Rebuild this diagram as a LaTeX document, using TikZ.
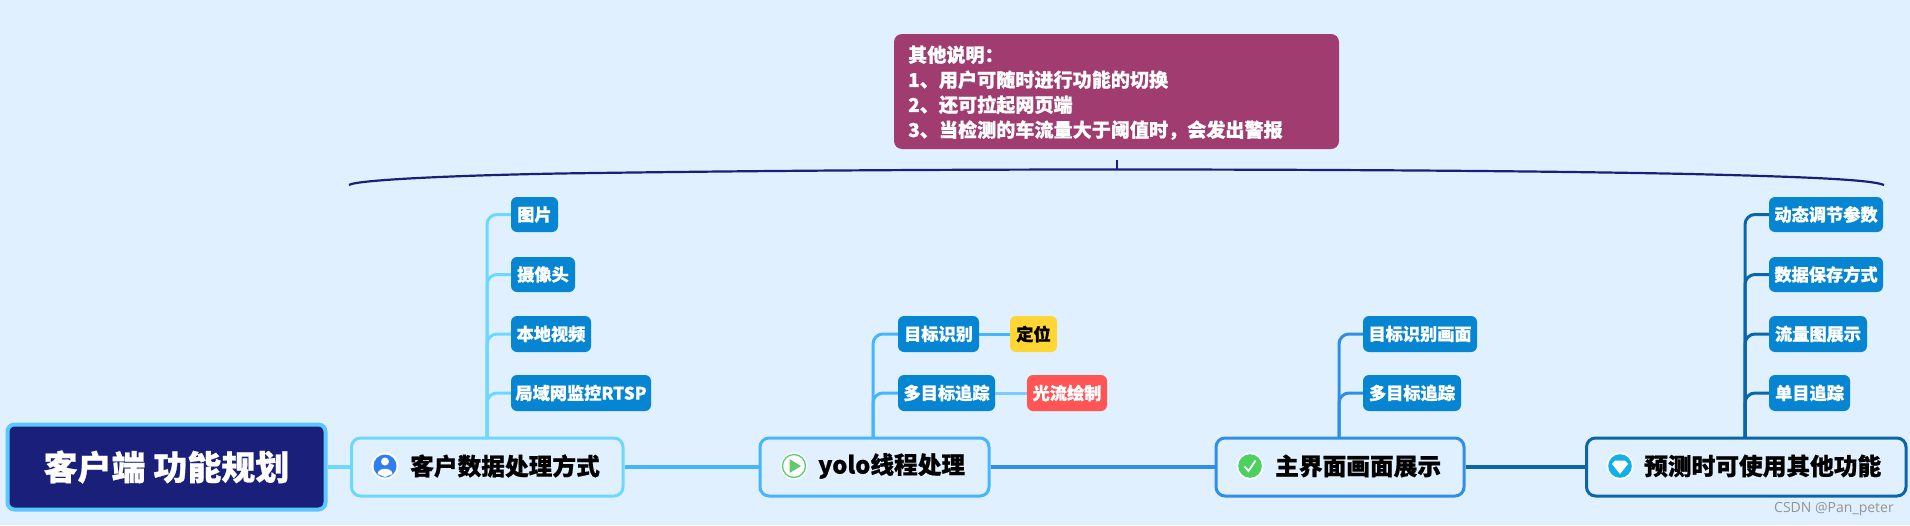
\documentclass[tikz,border=0pt]{standalone}
\usepackage{fontspec}
\setmainfont{Noto Sans CJK SC}[BoldFeatures={FakeBold=0.7}]
\newfontfamily\wmfont{Open Sans}
\definecolor{bgc}{HTML}{E1F0FE}
\definecolor{rootc}{HTML}{1A207A}
\definecolor{rootb}{HTML}{5AC8FF}
\definecolor{leafc}{HTML}{0585D2}
\definecolor{ca}{HTML}{6DD8FF}
\definecolor{cb}{HTML}{45B5FF}
\definecolor{cc}{HTML}{2F8FE8}
\definecolor{cd}{HTML}{0A66AA}
\definecolor{noteC}{HTML}{A03C70}
\definecolor{yellowC}{HTML}{FFD633}
\definecolor{redC}{HTML}{FF5555}
\definecolor{iconA}{HTML}{2F7DF0}
\definecolor{iconB}{HTML}{5FCB6E}
\definecolor{iconC}{HTML}{4CD060}
\definecolor{iconD}{HTML}{12B0E8}
\tikzset{
  box/.style={rounded corners=6pt,inner sep=0pt,font=\bfseries\fontsize{17.2}{17}\selectfont,text=white},
  leafbox/.style={box,fill=leafc},
  branchbox/.style={rounded corners=9pt,line width=3pt,fill=bgc,inner sep=0pt},
  branchtext/.style={anchor=west,inner sep=0pt,font=\bfseries\fontsize{23.7}{24}\selectfont,text=black},
  wire/.style={line width=3pt},
  trunk/.style={line width=3pt,rounded corners=10pt},
  bus/.style={line width=4.5pt},
  halo/.style={fill=white},
}
\newcommand{\boxat}[7][leafbox]{%
  \node[#1,minimum width={#4-#3},minimum height={#6-#5}] (#2) at ({(#3+#4)/2},{(#5+#6)/2}) {#7};}
\begin{document}
\begin{tikzpicture}[x=1pt,y=-1pt]
\useasboundingbox (0,0) rectangle (1910,525);
\fill[bgc] (0,0) rectangle (1910,525);
\coordinate (t1) at (487,438);
\coordinate (t2) at (873,438);
\coordinate (t3) at (1339,438);
\coordinate (t4) at (1745,438);
\coordinate (note tick) at (1117,160);
\coordinate (brace mid) at (1117,169.5);
\coordinate (brace l) at (349,185);
\coordinate (brace r) at (1884,185);
% nodes
\boxat[branchbox,draw=ca]{b1}{351.5}{623}{438}{496}{}
\boxat[branchbox,draw=cb]{b2}{760}{989}{438}{496}{}
\boxat[branchbox,draw=cc]{b3}{1216}{1464}{438}{496}{}
\boxat[branchbox,draw=cd]{b4}{1586.5}{1906}{438}{496}{}
\boxat{l11}{511}{558}{197}{232}{图片}
\boxat{l12}{511}{575}{257}{292}{摄像头}
\boxat{l13}{511}{591}{316}{352}{本地视频}
\boxat{l14}{511}{651}{375}{411}{局域网监控RTSP}
\boxat{l21}{898}{979}{316}{352}{目标识别}
\boxat{l22}{898}{995}{375}{411}{多目标追踪}
\boxat[leafbox,fill=yellowC,text=black]{l21a}{1010}{1057}{316}{352}{定位}
\boxat[leafbox,fill=redC]{l22a}{1027}{1107}{375}{411}{光流绘制}
\boxat{l31}{1363}{1477}{316}{352}{目标识别画面}
\boxat{l32}{1363}{1461}{375}{411}{多目标追踪}
\boxat{l41}{1769}{1883}{197}{232}{动态调节参数}
\boxat{l42}{1769}{1883}{257}{292}{数据保存方式}
\boxat{l43}{1769}{1867}{316}{352}{流量图展示}
\boxat{l44}{1769}{1850}{375}{411}{单目追踪}
% root
\node[rounded corners=7pt,line width=4pt,draw=rootb,fill=rootc,minimum width=318pt,minimum height=85pt,inner sep=0pt,text=white,font=\bfseries\fontsize{34}{34}\selectfont] (root) at (166.5,467) {客户端 功能规划};
% branch connectors
\draw[bus,ca] (root.east) -- (b1.west);
\draw[bus,cb] (b1.east) -- (b2.west);
\draw[bus,cc] (b2.east) -- (b3.west);
\draw[bus,cd] (b3.east) -- (b4.west);
\foreach \l in {l11,l12,l13,l14} \draw[trunk,ca] (t1) |- (\l.west);
\foreach \l in {l21,l22} \draw[trunk,cb] (t2) |- (\l.west);
\foreach \l in {l31,l32} \draw[trunk,cc] (t3) |- (\l.west);
\foreach \l in {l41,l42,l43,l44} \draw[trunk,cd] (t4) |- (\l.west);
\draw[wire,cb] (l21.east) -- (l21a.west);
\draw[wire,cb!70!white] (l22.east) -- (l22a.west);
% branch labels
\node[branchtext] (b1t) at (410,466) {客户数据处理方式};
\node[branchtext] (b2t) at (818,466) {yolo线程处理};
\node[branchtext] (b3t) at (1275,466) {主界面画面展示};
\node[branchtext] (b4t) at (1644,466) {预测时可使用其他功能};
% icons
\fill[halo] (385,466) circle (13.5);
\fill[iconA] (385,466) circle (11.5);
\fill[white] (385,461.5) circle (4);
\fill[white] (377.5,474) .. controls (378,467) and (392,467) .. (392.5,474) -- (385,477) -- cycle;
\fill[halo] (794,466) circle (13.5);
\draw[line width=1.3pt,iconB] (794,466) circle (11.5);
\fill[iconB] (789.5,459) -- (801,466) -- (789.5,473) -- cycle;
\fill[halo] (1250,466) circle (13.5);
\fill[iconC] (1250,466) circle (11.8);
\draw[white,line width=1.8pt] (1244.5,466.5) -- (1248.5,471) -- (1255.5,460.5);
\fill[halo] (1620,466) circle (13.5);
\fill[iconD] (1620,466) circle (11.8);
\fill[white] (1612,464) -- (1615,460.5) -- (1625,460.5) -- (1628,464) -- (1620,474) -- cycle;
% note
\node[rounded corners=8pt,fill=noteC,minimum width=445pt,minimum height=115pt,inner sep=0pt] (note) at (1116.5,91.5) {};
\node[anchor=north west,inner sep=0pt,text=white,align=left,font=\bfseries\fontsize{19.1}{25}\selectfont] (notetext) at (908,45.5) {其他说明：\\1、用户可随时进行功能的切换\\2、还可拉起网页端\\3、当检测的车流量大于阈值时，会发出警报};
% brace
\draw[rootc,line width=2.2pt] (brace l) .. controls (356,180) and (450,175.5) .. (560,173.5) .. controls (800,170) and (1000,169.5) .. (brace mid) .. controls (1240,169.5) and (1500,170) .. (1690,174) .. controls (1790,176.5) and (1870,179) .. (brace r);
\draw[rootc,line width=2.5pt] (note tick) -- (brace mid);
% watermark
\node[anchor=west,inner sep=0pt,text=black!42,font=\wmfont\fontsize{14}{14}\selectfont] (wm) at (1774,509) {CSDN @Pan\_peter};
\end{tikzpicture}
\end{document}
